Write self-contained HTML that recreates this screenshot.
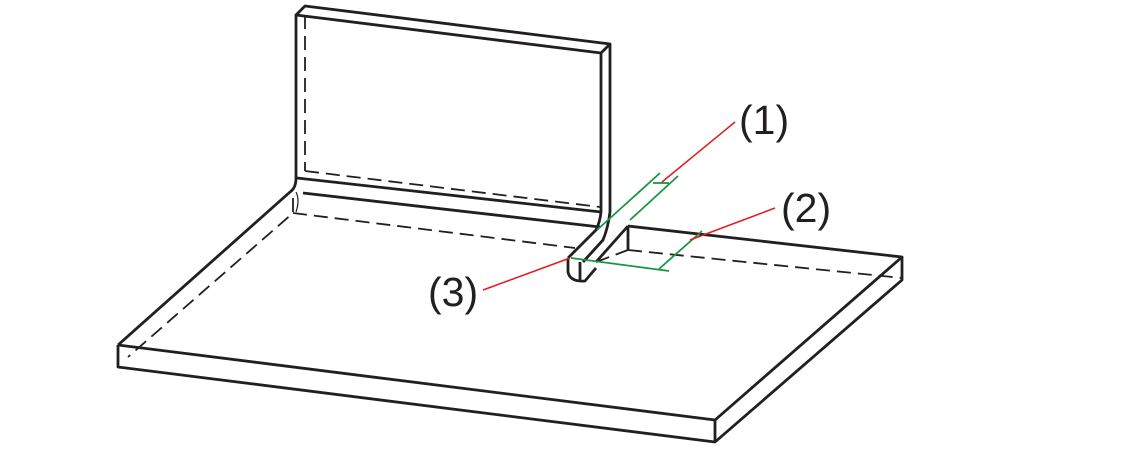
<!DOCTYPE html>
<html><head><style>html,body{margin:0;padding:0;background:#fff;}</style></head>
<body>
<svg width="1136" height="460" viewBox="0 0 1136 460" xmlns="http://www.w3.org/2000/svg">
<g fill="none" stroke="#231f20" stroke-width="2.8" stroke-linejoin="round">
<path d="M296,15 L305,6 L610,44 L601,53 Z"/>
<path d="M296,15 L296,178"/>
<path d="M601,53 L601,212"/>
<path d="M610,44 L610,212"/>
<path d="M297,178 L601,212"/>
<path d="M296,178 Q296,188 290,192 L118,345"/>
<path d="M303,193 L600,227"/>
<path d="M601,212 Q600,222 596,230 L568,258"/>
<path d="M610,212 Q608,228 603,240 L583,262"/>
<path d="M118,345 L715,420 L902,257 L628,226"/>
<path d="M118,345 L118,367 L715,442 L902,280 L902,257"/>
<path d="M715,420 L715,442"/>
<path d="M628,226 L628,250"/>
<path d="M568,258 L568,272 Q570,282 585,281 L596,268"/>
<path d="M580,262 L580,282"/>
<path d="M596,262 L628,226"/>
</g>
<g fill="none" stroke="#231f20" stroke-width="1.8" stroke-dasharray="14,7">
<path d="M305,15 L305,171"/>
<path d="M305,171 L600,207"/>
<path d="M293,198 L293,213 L128,357"/>
<path d="M293,213 L575,248"/>
<path d="M628,250 L902,278"/>
<path d="M596,262 L628,250"/>
</g>
<path d="M296,192 Q300,200 296,212" fill="none" stroke="#231f20" stroke-width="1.2"/>
<g fill="none" stroke="#1a9641" stroke-width="1.8">
<path d="M660,173 L597,230"/>
<path d="M678,176 L630,220"/>
<path d="M653,183 L669,183"/>
<path d="M571,258 L669,271"/>
<path d="M659,269 L702,231"/>
</g>
<g fill="none" stroke="#e31a1c" stroke-width="1.5">
<path d="M662,182 L735,122"/>
<path d="M690,240 L775,208"/>
<path d="M483,290 L570,258"/>
</g>
<g font-family="Liberation Sans, sans-serif" font-size="41" fill="#231f20">
<text x="739" y="134">(1)</text>
<text x="781" y="222">(2)</text>
<text x="428" y="306">(3)</text>
</g>
</svg>
</body></html>
